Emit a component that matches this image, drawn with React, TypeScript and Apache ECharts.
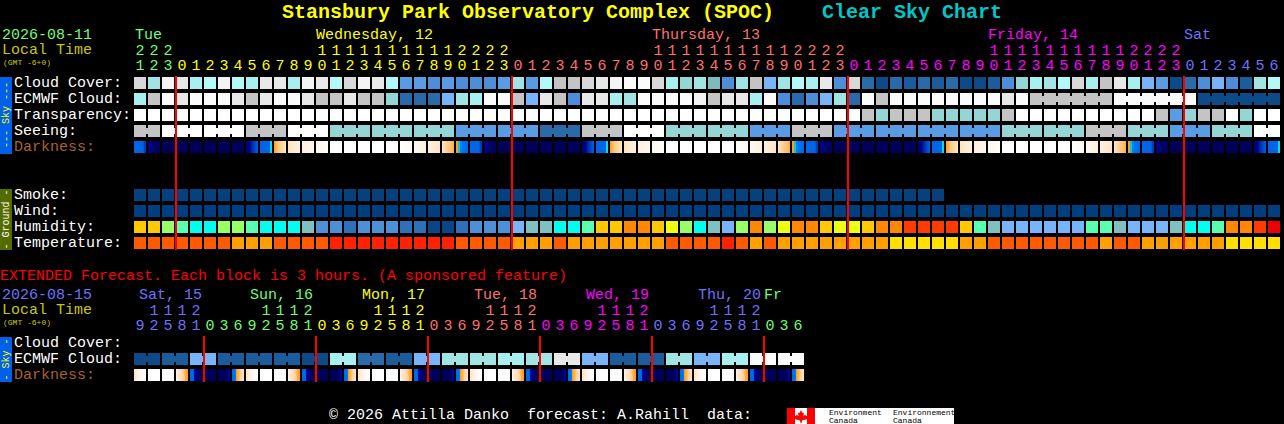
import React, { useEffect, useRef } from "react";
import * as echarts from "echarts";

const FONT = "'Liberation Mono', monospace";

// ---- hour labels
const DAY_ONES = "012345678901234567890123";
const DAY_TENS = "          11111111112222";
const MAIN_ONES = ("123" + DAY_ONES + DAY_ONES + DAY_ONES + "0123456").split("");
const MAIN_TENS = ("222" + DAY_TENS + DAY_TENS + DAY_TENS + "       ").split("");
const EXT_ONES = ("92581" + "03692581" + "03692581" + "03692581" + "03692581" + "03692581" + "036").split("");
const EXT_TENS = (" 1112" + "    1112" + "    1112" + "    1112" + "    1112" + "    1112" + "   ").split("");

const GREEN = "#70ff70", YEL = "#ffff00", PINK = "#ff7070", MAG = "#ff00ff", BLUE = "#7070ff";
const MAIN_DAY_SPANS: [number, string][] = [[0, GREEN], [3, YEL], [27, PINK], [51, MAG], [75, BLUE]];
const EXT_DAY_SPANS: [number, string][] = [[0, BLUE], [5, GREEN], [13, YEL], [21, PINK], [29, MAG], [37, BLUE], [45, GREEN]];
const MAIN_DAY_LABELS: [number, string, string][] = [
  [135, "Tue", GREEN], [316, "Wednesday, 12", YEL], [652, "Thursday, 13", PINK], [988, "Friday, 14", MAG], [1184, "Sat", BLUE],
];
const EXT_DAY_LABELS: [number, string, string][] = [
  [139, "Sat, 15", BLUE], [250, "Sun, 16", GREEN], [362, "Mon, 17", YEL], [474, "Tue, 18", PINK],
  [586, "Wed, 19", MAG], [698, "Thu, 20", BLUE], [764, "Fr", GREEN],
];
const MAIN_ROWS = ["Cloud Cover:", "ECMWF Cloud:", "Transparency:", "Seeing:", "Darkness:", " ", "  ", "Smoke:", "Wind:", "Humidity:", "Temperature:"];
const EXT_ROWS = ["Cloud Cover:", "ECMWF Cloud:", "Darkness:"];

// ---- colour scales
const SKY_PALETTE = ["#003f7f", "#0f4a88", "#1c5c9c", "#2a6aa8", "#4e8ed8", "#5a9ce4", "#78b4fa", "#7cbcbc", "#94d6d6", "#a0e4e4", "#a8f0f0", "#b4f9f9", "#c4c4c4", "#d8d8d8", "#e8e8e8", "#f4f4f4", "#fbfbfb", "#ffffff"];
const HUMIDITY_PALETTE = ["#0a4585", "#2f70b8", "#4e90d8", "#78b4fa", "#80c0c0", "#00ffee", "#5affb0", "#99ff66", "#eeff11", "#ffc800", "#ff8800", "#ff3c00", "#ee0000"];
const TEMP_PALETTE = ["#ff2200", "#ff5a00", "#ffa000", "#ffe000"];
const SMOKE_PALETTE = ["#05417f"];
const WIND_PALETTE = ["#003f7f"];

// ---- series values (scale levels per block)
const CLOUD_COVER = [13, 9, 15, 14, 10, 11, 15, 11, 10, 14, 14, 10, 15, 14, 11, 13, 15, 14, 11, 5, 5, 4, 5, 4, 4, 4, 5, 9, 5, 11, 12, 12, 13, 14, 15, 16, 16, 13, 10, 8, 9, 7, 4, 9, 12, 6, 9, 11, 10, 14, 4, 13, 3, 1, 3, 2, 3, 2, 3, 1, 1, 2, 4, 8, 10, 9, 11, 13, 10, 12, 14, 10, 6, 5, 1, 3, 4, 6, 4, 2, 9, 11];
const ECMWF_CLOUD = [10, 12, 16, 14, 16, 16, 16, 14, 12, 14, 16, 16, 14, 12, 12, 14, 12, 12, 8, 3, 3, 3, 6, 9, 10, 16, 16, 12, 6, 14, 12, 4, 14, 14, 10, 9, 16, 16, 16, 16, 15, 12, 14, 14, 10, 16, 4, 3, 4, 6, 9, 3, 16, 12, 16, 16, 16, 16, 16, 16, 16, 16, 14, 16, 12, 12, 12, 12, 12, 12, 16, 16, 16, 16, 16, 16, 1, 1, 1, 1, 1, 1];
const ECMWF_JOINED = [64, 65, 66, 67, 68, 70, 71, 72, 73, 74, 76, 77, 78, 79, 80];
const TRANSPARENCY = [17, 17, 17, 17, 17, 17, 17, 17, 17, 17, 17, 17, 17, 17, 17, 17, 17, 17, 17, 17, 17, 17, 17, 17, 17, 17, 17, 17, 17, 17, 17, 17, 17, 17, 17, 17, 17, 17, 17, 17, 17, 17, 17, 17, 17, 17, 17, 17, 17, 17, 17, 17, 12, 8, 12, 12, 12, 8, 8, 8, 8, 8, 12, 17, 17, 17, 17, 17, 17, 17, 17, 17, 17, 12, 5, 8, 12, 12, 17, 8, 17, 17];
const SEEING = [12, 12, 17, 17, 17, 17, 17, 17, 12, 12, 12, 17, 17, 17, 8, 8, 8, 8, 8, 8, 8, 8, 8, 5, 5, 5, 5, 5, 5, 3, 3, 3, 12, 12, 12, 17, 17, 17, 8, 8, 8, 8, 8, 8, 5, 5, 5, 12, 12, 12, 5, 5, 5, 5, 5, 5, 5, 5, 5, 5, 5, 5, 8, 8, 8, 8, 8, 8, 12, 12, 12, 8, 8, 8, 5, 5, 5, 8, 8, 8, 17, 17];
const SEEING_BLOCK_STARTS = [0, 2, 5, 8, 11, 14, 17, 20, 23, 26, 29, 32, 35, 38, 41, 44, 47, 50, 53, 56, 59, 62, 65, 68, 71, 74, 77, 80];
const SMOKE = [0, 0, 0, 0, 0, 0, 0, 0, 0, 0, 0, 0, 0, 0, 0, 0, 0, 0, 0, 0, 0, 0, 0, 0, 0, 0, 0, 0, 0, 0, 0, 0, 0, 0, 0, 0, 0, 0, 0, 0, 0, 0, 0, 0, 0, 0, 0, 0, 0, 0, 0, 0, 0, 0, 0, 0, 0, 0];
const WIND = [0, 0, 0, 0, 0, 0, 0, 0, 0, 0, 0, 0, 0, 0, 0, 0, 0, 0, 0, 0, 0, 0, 0, 0, 0, 0, 0, 0, 0, 0, 0, 0, 0, 0, 0, 0, 0, 0, 0, 0, 0, 0, 0, 0, 0, 0, 0, 0, 0, 0, 0, 0, 0, 0, 0, 0, 0, 0, 0, 0, 0, 0, 0, 0, 0, 0, 0, 0, 0, 0, 0, 0, 0, 0, 0, 0, 0, 0, 0, 0, 0, 0];
const HUMIDITY = [9, 9, 7, 6, 5, 5, 7, 7, 6, 5, 5, 5, 4, 2, 2, 1, 2, 2, 2, 1, 1, 0, 0, 1, 2, 2, 2, 3, 4, 4, 5, 5, 6, 9, 9, 10, 10, 9, 8, 7, 5, 4, 3, 7, 10, 7, 8, 10, 10, 9, 8, 8, 9, 10, 10, 11, 11, 11, 11, 9, 6, 4, 3, 3, 3, 3, 3, 3, 6, 6, 4, 3, 3, 3, 4, 5, 5, 6, 10, 10, 11, 12];
const TEMPERATURE = [1, 1, 1, 1, 1, 1, 1, 2, 2, 2, 1, 1, 1, 1, 0, 0, 0, 0, 0, 0, 0, 0, 0, 1, 1, 1, 1, 2, 2, 2, 1, 2, 2, 2, 2, 2, 2, 2, 1, 1, 1, 1, 0, 1, 2, 1, 2, 2, 2, 2, 2, 2, 2, 2, 3, 3, 3, 3, 3, 2, 2, 1, 1, 1, 1, 1, 1, 1, 1, 2, 1, 1, 2, 2, 2, 2, 2, 2, 3, 3, 3, 3];
const EXT_ECMWF = [1, 1, 2, 2, 6, 6, 2, 2, 2, 2, 2, 2, 1, 1, 10, 10, 3, 3, 2, 2, 6, 6, 9, 9, 9, 9, 10, 10, 9, 9, 14, 14, 6, 6, 2, 2, 2, 2, 9, 9, 6, 6, 10, 10, 16, 16, 16, 16];
const EXT_ECMWF_JOINED = [0, 2, 4, 6, 8, 10, 12, 14, 16, 18, 20, 22, 24, 26, 28, 30, 32, 34, 36, 38, 40, 42, 44, 46];

// ---- darkness: every key is the colour run inside one block
const DARK_STOPS: Record<string, [number, string][]> = {
  N: [[0, "#000058"], [1, "#000058"]],
  W: [[0, "#ffffff"], [1, "#ffffff"]],
  R1: [[0, "#000070"], [0.3, "#000090"], [0.55, "#0030b0"], [0.8, "#0050d0"], [1, "#0060e0"]],
  R2: [[0, "#0066e8"], [0.82, "#0066e8"], [0.84, "#00e0e0"], [1, "#00e0e0"]],
  R3: [[0, "#ffa020"], [0.35, "#ffc878"], [1, "#ffe8c0"]],
  R4: [[0, "#ffe4c0"], [1, "#fff0e0"]],
  R5: [[0, "#fff0e0"], [1, "#fff6ec"]],
  R6: [[0, "#fff6ec"], [1, "#ffffff"]],
  S1: [[0, "#ffffff"], [1, "#fff8f0"]],
  S2: [[0, "#fff8f0"], [1, "#fff0e0"]],
  S3: [[0, "#fff0e0"], [1, "#ffe4c4"]],
  S4: [[0, "#ffe4c0"], [0.6, "#ffc880"], [1, "#ffb050"]],
  D2: [[0, "#ffa010"], [0.17, "#ffa010"], [0.18, "#00c8f0"], [0.3, "#00c8f0"], [0.31, "#0088f0"], [0.5, "#0078f0"], [1, "#0066e8"]],
  D3: [[0, "#0066e8"], [0.75, "#0066e8"], [0.85, "#0048c0"], [1, "#0030a8"]],
  D4: [[0, "#000090"], [0.4, "#000070"], [1, "#000060"]],
  E0: [[0, "#ffe4c8"], [0.5, "#fff6ec"], [1, "#ffffff"]],
  E3: [[0, "#fff4e8"], [0.5, "#ffd8a8"], [0.75, "#ffc070"], [0.85, "#ffa020"], [1, "#ffa020"]],
  E4: [[0, "#0066e8"], [0.33, "#0066e8"], [0.35, "#0000a0"], [0.6, "#000070"], [1, "#000058"]],
  E6: [[0, "#000058"], [0.75, "#000058"], [0.85, "#0000a0"], [1, "#0000a0"]],
  E7: [[0, "#0066e8"], [0.33, "#0078f0"], [0.35, "#ffa020"], [0.5, "#ffb040"], [0.7, "#ffd090"], [1, "#ffe8d0"]],
};
const DARKNESS = ["D3", "D4", "N", "N", "N", "N", "N", "N", "R1", "R2", "R3", "R4", "R5", "R6", "W", "W", "W", "W", "W", "S1", "S2", "S3", "S4", "D2",
  "D3", "D4", "N", "N", "N", "N", "N", "N", "R1", "R2", "R3", "R4", "R5", "R6", "W", "W", "W", "W", "W", "S1", "S2", "S3", "S4", "D2",
  "D3", "D4", "N", "N", "N", "N", "N", "N", "R1", "R2", "R3", "R4", "R5", "R6", "W", "W", "W", "W", "W", "S1", "S2", "S3", "S4", "D2",
  "D3", "D4", "N", "N", "N", "N", "N", "N", "R1", "R2"];
const EXT_DARKNESS = ["E0", "W", "W", "E3", "E4", "N", "E6", "E7", "E0", "W", "W", "E3", "E4", "N", "E6", "E7", "E0", "W", "W", "E3", "E4", "N", "E6", "E7",
  "E0", "W", "W", "E3", "E4", "N", "E6", "E7", "E0", "W", "W", "E3", "E4", "N", "E6", "E7", "E0", "W", "W", "E3", "E4", "N", "E6", "E7"];
const MAIN_MIDNIGHTS = [3, 27, 51, 75];
const EXT_MIDNIGHTS = [5, 13, 21, 29, 37, 45];

function spanColor(spans: [number, string][], i: number) {
  let c = spans[0][1];
  for (const s of spans) if (i >= s[0]) c = s[1];
  return c;
}

function cellRender(fills: any[], joined: number[]) {
  return (params: any, api: any) => {
    const col = api.value(0);
    const c = api.coord([col, api.value(1)]);
    const x = Math.round(c[0] - 6);
    const y = Math.round(c[1] - 6);
    const children: any[] = [{ type: "rect", shape: { x, y, width: 12, height: 12 }, style: { fill: fills[params.dataIndex] } }];
    if (joined.includes(col)) {
      children.push({ type: "rect", shape: { x: x + 12, y: y + 3, width: 2, height: 6 }, style: { fill: fills[params.dataIndex] } });
    }
    return { type: "group", children };
  };
}

function rowSeries(grid: number, row: number, values: any[], toFill: (v: any) => any, joined: number[] = []) {
  return {
    type: "custom",
    xAxisIndex: grid * 2,
    yAxisIndex: grid,
    silent: true,
    renderItem: cellRender(values.map(toFill), joined),
    encode: { x: 0, y: 1 },
    data: values.map((_, i) => [i, row]),
    z: 2,
  };
}

function redLines(grid: number, cols: number[], firstRow: number, lastRow: number) {
  return {
    type: "custom",
    xAxisIndex: grid * 2,
    yAxisIndex: grid,
    silent: true,
    z: 5,
    encode: { x: 0 },
    data: cols.map((c) => [c]),
    renderItem: (_: any, api: any) => {
      const top = api.coord([api.value(0), firstRow]);
      const bot = api.coord([api.value(0), lastRow]);
      return {
        type: "rect",
        shape: { x: Math.round(top[0] - 7), y: top[1] - 7, width: 2, height: bot[1] - top[1] + 14 },
        style: { fill: "#ff0000" },
      };
    },
  };
}

const palette = (p: string[]) => (v: number) => p[v];
const darkFill = (k: string) => ({ type: "linear", x: 0, y: 0, x2: 1, y2: 0, colorStops: DARK_STOPS[k].map(([offset, color]) => ({ offset, color })), global: false });

function hourAxis(grid: number, cats: string[], spans: [number, string][], offset: number) {
  return {
    type: "category",
    gridIndex: grid,
    position: "top",
    offset,
    data: cats,
    axisLine: { show: false },
    axisTick: { show: false },
    splitLine: { show: false },
    axisLabel: {
      show: true,
      interval: 0,
      margin: 9,
      hideOverlap: false,
      verticalAlign: "middle",
      lineHeight: 14,
      fontFamily: FONT,
      fontSize: 15,
      color: (_: any, i: number) => spanColor(spans, i),
    },
  };
}

function rowAxis(grid: number, rows: string[]) {
  return {
    type: "category",
    gridIndex: grid,
    inverse: true,
    data: rows,
    axisLine: { show: false },
    axisTick: { show: false },
    splitLine: { show: false },
    axisLabel: {
      show: true,
      interval: 0,
      margin: 119,
      align: "left",
      verticalAlign: "middle",
      lineHeight: 14,
      padding: [0, 0, 3, 0],
      fontFamily: FONT,
      fontSize: 15,
      color: (v: string) => (v.startsWith("Darkness") ? "#a8622e" : "#ffffff"),
    },
  };
}

const txt = (x: number, y: number, text: string, fill: string, fontSize = 15, extra: any = {}) => ({
  type: "text",
  x,
  y,
  silent: true,
  z: 10,
  style: { text, fill, font: `${extra.bold ? "bold " : ""}${fontSize}px ${FONT}`, align: extra.align || "left", verticalAlign: "middle" },
  ...(extra.rotation ? { rotation: extra.rotation, originX: 0, originY: 0 } : {}),
});
const box = (x: number, y: number, width: number, height: number, fill: string) => ({
  type: "rect", silent: true, z: 9, shape: { x, y, width, height }, style: { fill },
});

const LEAF = [[801, 410], [802.5, 413], [804, 412.5], [803.5, 416], [805.5, 414.5], [806, 416], [808, 416], [807, 418.5], [807.5, 419], [802, 420.5], [801.5, 423], [800.5, 423], [800, 420.5], [794.5, 419], [795, 418.5], [794, 416], [796, 416], [796.5, 414.5], [798.5, 416], [798, 412.5], [799.5, 413]];

export default function App() {
  const ref = useRef<HTMLDivElement>(null);
  useEffect(() => {
    document.body.style.margin = "0";
    document.body.style.background = "#000";
    document.body.style.overflow = "hidden";
    const chart = echarts.init(ref.current!, undefined, { renderer: "svg" });
    chart.setOption({
      animation: false,
      backgroundColor: "#000000",
      tooltip: { show: false },
      grid: [
        { left: 133, top: 75, width: 82 * 14, height: 11 * 16, containLabel: false },
        { left: 133, top: 335, width: 48 * 14, height: 3 * 16, containLabel: false },
      ],
      xAxis: [
        hourAxis(0, MAIN_ONES, MAIN_DAY_SPANS, 0),
        hourAxis(0, MAIN_TENS, MAIN_DAY_SPANS, 15),
        hourAxis(1, EXT_ONES, EXT_DAY_SPANS, 0),
        hourAxis(1, EXT_TENS, EXT_DAY_SPANS, 15),
      ],
      yAxis: [rowAxis(0, MAIN_ROWS), rowAxis(1, EXT_ROWS)],
      series: [
        rowSeries(0, 0, CLOUD_COVER, palette(SKY_PALETTE)),
        rowSeries(0, 1, ECMWF_CLOUD, palette(SKY_PALETTE), ECMWF_JOINED),
        rowSeries(0, 2, TRANSPARENCY, palette(SKY_PALETTE)),
        rowSeries(0, 3, SEEING, palette(SKY_PALETTE), SEEING.map((_, i) => i).filter((i) => i < SEEING.length - 1 && !SEEING_BLOCK_STARTS.includes(i + 1))),
        rowSeries(0, 4, DARKNESS, darkFill),
        rowSeries(0, 7, SMOKE, palette(SMOKE_PALETTE)),
        rowSeries(0, 8, WIND, palette(WIND_PALETTE)),
        rowSeries(0, 9, HUMIDITY, palette(HUMIDITY_PALETTE)),
        rowSeries(0, 10, TEMPERATURE, palette(TEMP_PALETTE)),
        redLines(0, MAIN_MIDNIGHTS, 0, 10),
        rowSeries(1, 1, EXT_ECMWF, palette(SKY_PALETTE), EXT_ECMWF_JOINED),
        rowSeries(1, 2, EXT_DARKNESS, darkFill),
        redLines(1, EXT_MIDNIGHTS, 0, 2),
      ],
      graphic: {
        elements: [
          txt(282, 12, "Stansbury Park Observatory Complex (SPOC)", "#ffff00", 20, { bold: true }),
          txt(822, 12, "Clear Sky Chart", "#00c8c8", 20, { bold: true }),
          txt(2, 35, "2026-08-11", GREEN),
          txt(2, 50, "Local Time", "#c8c800"),
          txt(3, 62, "(GMT -6+0)", "#c8c800", 8),
          ...MAIN_DAY_LABELS.map(([x, t, c]) => txt(x, 35, t, c)),
          box(0, 77, 12, 77, "#0060e8"),
          txt(6, 115, "--- Sky ---", "#ffff00", 10, { align: "center", rotation: Math.PI / 2 }),
          box(0, 189, 12, 61, "#556b00"),
          txt(6, 219.5, "- Ground -", "#ffffff", 10, { align: "center", rotation: Math.PI / 2 }),
          txt(0, 276, "EXTENDED Forecast. Each block is 3 hours. (A sponsored feature)", "#ff0000"),
          txt(2, 295, "2026-08-15", BLUE),
          txt(2, 310, "Local Time", "#c8c800"),
          txt(3, 322, "(GMT -6+0)", "#c8c800", 8),
          ...EXT_DAY_LABELS.map(([x, t, c]) => txt(x, 295, t, c)),
          box(0, 337, 12, 45, "#0060e8"),
          txt(6, 359.5, "- Sky -", "#ffff00", 10, { align: "center", rotation: Math.PI / 2 }),
          txt(329, 415, "© 2026 Attilla Danko  forecast: A.Rahill  data:", "#ffffff"),
          box(787, 408, 167, 16, "#ffffff"),
          box(787, 408, 8, 16, "#ff0000"),
          box(807, 408, 8, 16, "#ff0000"),
          { type: "polygon", silent: true, z: 10, shape: { points: LEAF }, style: { fill: "#ff0000" } },
          txt(829, 412, "Environment", "#000000", 8),
          txt(829, 420, "Canada", "#000000", 8),
          txt(893, 412, "Environnement", "#000000", 8),
          txt(893, 420, "Canada", "#000000", 8),
        ],
      },
    });
    return () => chart.dispose();
  }, []);
  return <div ref={ref} style={{ width: 1284, height: 424, display: "block", background: "#000" }} />;
}
